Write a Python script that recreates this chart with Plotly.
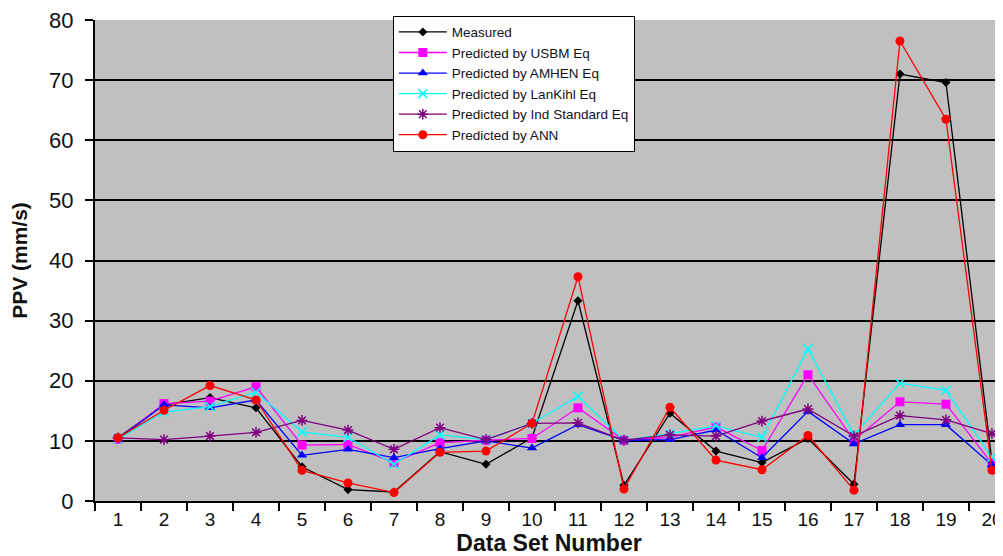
import plotly.graph_objects as go

data_sets = list(range(1, 21))
tick_labels = [str(i) for i in data_sets]

measured = [10.5, 16.0, 17.2, 15.5, 5.7, 1.9, 1.5, 8.2, 6.1, 10.5, 33.3, 2.6, 14.6, 8.3, 6.4, 10.4, 2.8, 71.0, 69.6, 6.5]
usbm = [10.3, 16.2, 16.6, 19.0, 9.3, 9.4, 6.4, 9.7, 10.1, 10.4, 15.5, 10.1, 10.6, 12.3, 8.4, 21.0, 10.1, 16.5, 16.1, 6.2]
amhen = [10.3, 16.0, 15.5, 16.8, 7.6, 8.6, 7.2, 8.7, 10.0, 8.8, 12.7, 10.1, 10.2, 11.8, 7.2, 14.9, 9.5, 12.7, 12.7, 6.0]
lankihl = [10.3, 14.8, 15.7, 18.1, 11.5, 10.6, 6.1, 11.0, 10.2, 12.9, 17.4, 10.1, 11.2, 12.5, 10.6, 25.3, 11.0, 19.6, 18.4, 7.3]
ind_std = [10.5, 10.2, 10.8, 11.4, 13.4, 11.8, 8.6, 12.2, 10.2, 12.9, 13.0, 10.1, 11.0, 10.8, 13.3, 15.3, 10.8, 14.2, 13.5, 11.2]
ann = [10.5, 15.1, 19.2, 16.8, 5.1, 3.0, 1.4, 8.1, 8.3, 12.9, 37.3, 2.0, 15.6, 6.8, 5.2, 10.9, 1.8, 76.5, 63.5, 5.1]

series = [
    ("Measured", measured, "#000000", "diamond", 7),
    ("Predicted by USBM Eq", usbm, "#FF00FF", "square", 9),
    ("Predicted by AMHEN Eq", amhen, "#0000FF", "triangle-up", 9),
    ("Predicted by LanKihl Eq", lankihl, "#00FFFF", "x-thin-open", 9),
    ("Predicted by Ind Standard Eq", ind_std, "#800080", "asterisk-open", 9),
    ("Predicted by ANN", ann, "#FF0000", "circle", 9),
]

fig = go.Figure()
for name, vals, color, sym, size in series:
    marker = dict(symbol=sym, size=size, color=color)
    if "open" in sym:
        marker["line"] = dict(color=color, width=1.5)
    fig.add_trace(go.Scatter(
        x=data_sets, y=vals, name=name, mode="lines+markers",
        line=dict(color=color, width=1.3), marker=marker,
    ))

fig.update_layout(
    width=995, height=548,
    margin=dict(l=87, r=0, t=10, b=55),
    paper_bgcolor="white",
    plot_bgcolor="#C0C0C0",
    font=dict(family="Liberation Sans, Arial, sans-serif", color="#111111"),
    showlegend=True,
    legend=dict(
        x=0.328, y=1.009, xanchor="left", yanchor="top",
        bgcolor="white", bordercolor="black", borderwidth=1,
        font=dict(size=13.5, color="#111122"),
        tracegroupgap=0, itemwidth=48,
    ),
)

fig.update_xaxes(
    range=[0.5, 20.24],
    tickmode="array", tickvals=data_sets, ticktext=tick_labels,
    ticks="", showgrid=False, zeroline=False,
    showline=True, linecolor="black", linewidth=2,
    tickfont=dict(size=19), ticklabeloverflow="allow",
    minor=dict(tickmode="array", tickvals=[i + 0.5 for i in range(0, 20)],
               ticks="outside", ticklen=8, tickcolor="black", tickwidth=1.5,
               showgrid=False),
    title=dict(text="<b>Data Set Number</b>", font=dict(size=23), standoff=5),
)
fig.update_yaxes(
    range=[0, 80], tickmode="array", tickvals=list(range(0, 81, 10)),
    ticks="outside", ticklen=8, tickcolor="black", tickwidth=1.5,
    showgrid=True, gridcolor="black", gridwidth=1.5,
    zeroline=False, showline=True, linecolor="black", linewidth=2,
    tickfont=dict(size=22), ticklabelstandoff=7, ticklabeloverflow="allow",
    title=dict(text="<b>PPV (mm/s)</b>", font=dict(size=21), standoff=16),
)

fig.write_html("out.html")
